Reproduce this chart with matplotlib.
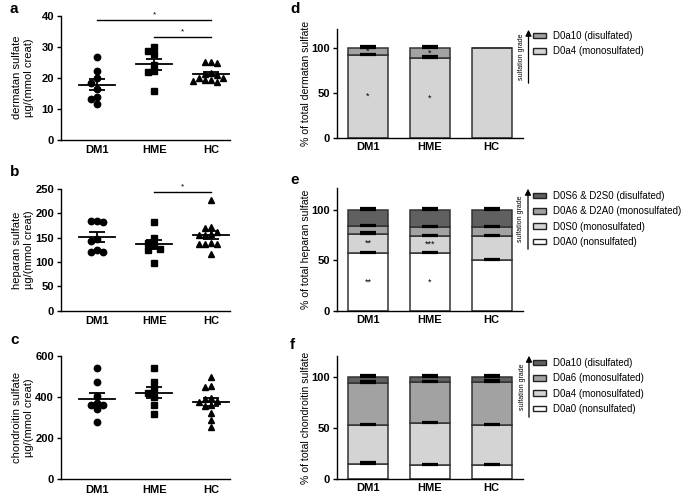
import numpy as np
import matplotlib
matplotlib.use('Agg')
import matplotlib.pyplot as plt
from matplotlib.patches import Patch, FancyArrowPatch

plt.rcParams['font.family'] = ['Liberation Sans', 'DejaVu Sans']
plt.rcParams['axes.linewidth'] = 1.0

groups = ['DM1', 'HME', 'HC']

# ---- scatter data (a, b, c) ----
ds_dm1 = [26.7, 22.1, 19.8, 18.4, 16.3, 13.8, 13.1, 11.5]
ds_hme = [29.8, 28.6, 27.6, 24.1, 22.1, 21.7, 15.8]
ds_hc = [24.6, 25.1, 25.1, 20.7, 21.4, 21.2, 19.2, 19.8, 19.8, 19.2, 19.0, 18.7]

hs_dm1 = [184, 182, 184, 148, 143, 125, 121, 121]
hs_hme = [181.6, 150, 138.4, 135, 126.7, 124.7, 97.4]
hs_hc = [227, 171, 169, 162, 157, 156, 155, 139, 138, 138, 137, 116]

cs_dm1 = [540, 475, 405, 370, 362, 360, 340, 280]
cs_hme = [543, 472, 440, 420, 400, 360, 316]
cs_hc = [500, 452, 448, 395, 390, 380, 375, 362, 355, 320, 288, 255]

# ---- stacked composition data (d, e, f), bottom -> top ----
d_labels = ['D0a4 (monosulfated)', 'D0a10 (disulfated)']
d_vals = [[92.5, 7.5], [89.5, 10.5], [100.0, 0.0]]
d_err = [[1.5, 2.5], [1.5, 2.5], [0.0, 0.0]]
d_stars = [['*', '*'], ['*', '*'], ['', '']]

e_labels = ['D0A0 (nonsulfated)', 'D0S0 (monosulfated)',
            'D0A6 & D2A0 (monosulfated)', 'D0S6 & D2S0 (disulfated)']
e_vals = [[57.0, 19.2, 7.9, 15.9], [57.0, 16.5, 9.3, 17.2], [50.3, 23.4, 9.3, 17.0]]
e_err = [[1.5, 1.5, 1.0, 2.0], [1.5, 1.5, 1.0, 2.0], [1.0, 1.0, 1.0, 1.5]]
e_stars = [['**', '**', '', ''], ['*', '***', '', ''], ['', '', '', '']]

f_labels = ['D0a0 (nonsulfated)', 'D0a4 (monosulfated)',
            'D0a6 (monosulfated)', 'D0a10 (disulfated)']
f_vals = [[14.7, 38.7, 41.1, 5.5], [13.7, 41.4, 40.0, 4.9], [14.5, 39.0, 42.1, 4.4]]
f_err = [[2.5, 1.0, 1.5, 2.0], [1.0, 1.0, 1.5, 2.0], [1.0, 1.0, 1.5, 2.0]]
f_stars = [['', '', '', ''], ['', '', '', ''], ['', '', '', '']]

c_white, c_light, c_mid, c_dark = 'white', '#d4d4d4', '#a2a2a2', '#606060'

W, H = 685, 497
FS = 8


def box(l, t, r, b):
    # pixel box -> figure fraction rect
    return [l / W, 1 - b / H, (r - l) / W, (b - t) / H]


def beeswarm(vals, px_x, px_y, diam=6.0):
    '''horizontal offsets so markers (diam px) do not overlap'''
    step = diam / px_x
    offs = np.zeros(len(vals))
    placed = []
    for i in np.argsort(vals)[::-1]:
        for k in range(30):
            cand = ((k + 1) // 2) * step * (-1 if k % 2 else 1)
            ok = all(((cand - ox) * px_x) ** 2 + ((vals[i] - oy) * px_y) ** 2
                     >= (diam * 0.95) ** 2 for ox, oy in placed)
            if ok:
                break
        offs[i] = cand
        placed.append((cand, vals[i]))
    return offs


def style_axis(ax, xpad):
    ax.set_xticks(range(3))
    ax.set_xticklabels(groups, fontweight='bold', fontsize=FS)
    for t in ax.get_yticklabels():
        t.set_fontweight('bold')
        t.set_fontsize(FS)
    ax.tick_params(axis='x', length=0, pad=xpad)
    ax.tick_params(axis='y', length=3, width=1, pad=2)
    ax.spines[['top', 'right']].set_visible(False)


def scatter_panel(ax, data, ymax, yticks, ylabel, sig=()):
    markers = ['o', 's', '^']
    bb = ax.get_position()
    px_x = bb.width * W / (2.33 + 0.63)
    px_y = bb.height * H / ymax
    for i, vals in enumerate(data):
        vals = np.asarray(vals, float)
        x = i + beeswarm(vals, px_x, px_y)
        ax.plot(x, vals, ls='none', marker=markers[i], ms=4.6, color='k', mec='k')
        m = vals.mean()
        sem = vals.std(ddof=1) / np.sqrt(len(vals))
        ax.plot([i - 0.32, i + 0.32], [m, m], color='k', lw=1.3)
        ax.errorbar(i, m, yerr=sem, color='k', lw=1.3, capsize=6, capthick=1.3)
    for x0, x1, y in sig:
        ax.plot([x0, x1], [y, y], color='k', lw=1.0, clip_on=False)
        ax.text((x0 + x1) / 2, y + ymax * 0.01, '*', ha='center', va='bottom', fontsize=6)
    ax.set_xlim(-0.63, 2.33)
    ax.set_ylim(0, ymax)
    ax.set_yticks(yticks)
    style_axis(ax, 4)
    ax.set_ylabel(ylabel, fontsize=FS, linespacing=1.25)
    ax.yaxis.set_label_coords(-0.16, 0.5)


def stack_panel(ax, vals, errs, stars, labels, colors, ylabel, leg_top, arrow):
    vals = np.asarray(vals, float)
    bottoms = np.zeros(3)
    for j in range(vals.shape[1]):
        seg = vals[:, j]
        ax.bar(range(3), seg, bottom=bottoms, width=0.65, color=colors[j],
               edgecolor='#333333', lw=1.1, label=labels[j])
        tops = bottoms + seg
        for i in range(3):
            e = errs[i][j]
            if e > 0:
                ax.errorbar(i, tops[i], yerr=[[0], [e]], color='k', lw=1.0,
                            capsize=6, capthick=1.6)
            if stars[i][j]:
                ax.text(i, bottoms[i] + seg[i] / 2, stars[i][j], ha='center',
                        va='center', fontsize=6.5)
        bottoms = tops
    ax.set_xlim(-0.5, 2.5)
    ax.set_ylim(0, 121)
    ax.set_yticks([0, 50, 100])
    style_axis(ax, 3)
    ax.set_ylabel(ylabel, fontsize=7.6)
    ax.yaxis.set_label_coords(-0.14, 0.5)

    handles = [Patch(facecolor=colors[j], edgecolor='#222222', lw=1.0)
               for j in range(len(labels))][::-1]
    fig.legend(handles, labels[::-1], loc='upper left',
               bbox_to_anchor=(533 / W, 1 - leg_top / H), frameon=False,
               fontsize=7.0, handlelength=1.3, handleheight=0.5,
               handletextpad=0.8, labelspacing=0.55, borderaxespad=0, borderpad=0)
    x, yb, yt = arrow
    fig.add_artist(FancyArrowPatch(
        (x / W, 1 - yb / H), (x / W, 1 - yt / H), transform=fig.transFigure,
        arrowstyle='-|>', mutation_scale=9, color='k', lw=0.9))
    fig.text((x - 7) / W, 1 - (yb + yt) / 2 / H, 'sulfation grade', rotation=90,
             ha='center', va='center', fontsize=5)


fig = plt.figure(figsize=(6.85, 4.97), dpi=100)

ax_a = fig.add_axes(box(61, 15.7, 230, 139.5))
ax_b = fig.add_axes(box(61, 189, 230, 310.7))
ax_c = fig.add_axes(box(61, 356, 230, 479))
ax_d = fig.add_axes(box(337, 29.3, 522.7, 138.3))
ax_e = fig.add_axes(box(337, 188.3, 522.7, 310.7))
ax_f = fig.add_axes(box(337, 356, 522.7, 479.3))

scatter_panel(ax_a, [ds_dm1, ds_hme, ds_hc], 40, [0, 10, 20, 30, 40],
              'dermatan sulfate\nµg/(mmol creat)',
              sig=[(0, 2, 38.6), (1, 2, 33.2)])
scatter_panel(ax_b, [hs_dm1, hs_hme, hs_hc], 250, [0, 50, 100, 150, 200, 250],
              'heparan sulfate\nµg/(mmol creat)', sig=[(1, 2, 244)])
scatter_panel(ax_c, [cs_dm1, cs_hme, cs_hc], 600, [0, 200, 400, 600],
              'chondroitin sulfate\nµg/(mmol creat)')

stack_panel(ax_d, d_vals, d_err, d_stars, d_labels, [c_light, c_mid],
            '% of total dermatan sulfate', 31, (528.5, 86, 27))
stack_panel(ax_e, e_vals, e_err, e_stars, e_labels,
            [c_white, c_light, c_mid, c_dark],
            '% of total heparan sulfate', 191, (528, 252, 186))
stack_panel(ax_f, f_vals, f_err, f_stars, f_labels,
            [c_white, c_light, c_mid, c_dark],
            '% of total chondroitin sulfate', 358, (529, 420, 353))

# panel letters
for letter, (px, py) in zip('abcdef', [(10, 9), (10, 172), (10, 340),
                                       (290, 9), (290, 180), (290, 345)]):
    fig.text(px / W, 1 - py / H, letter, fontsize=11, fontweight='bold',
             ha='left', va='center')

fig.savefig('out.png', dpi=100)
